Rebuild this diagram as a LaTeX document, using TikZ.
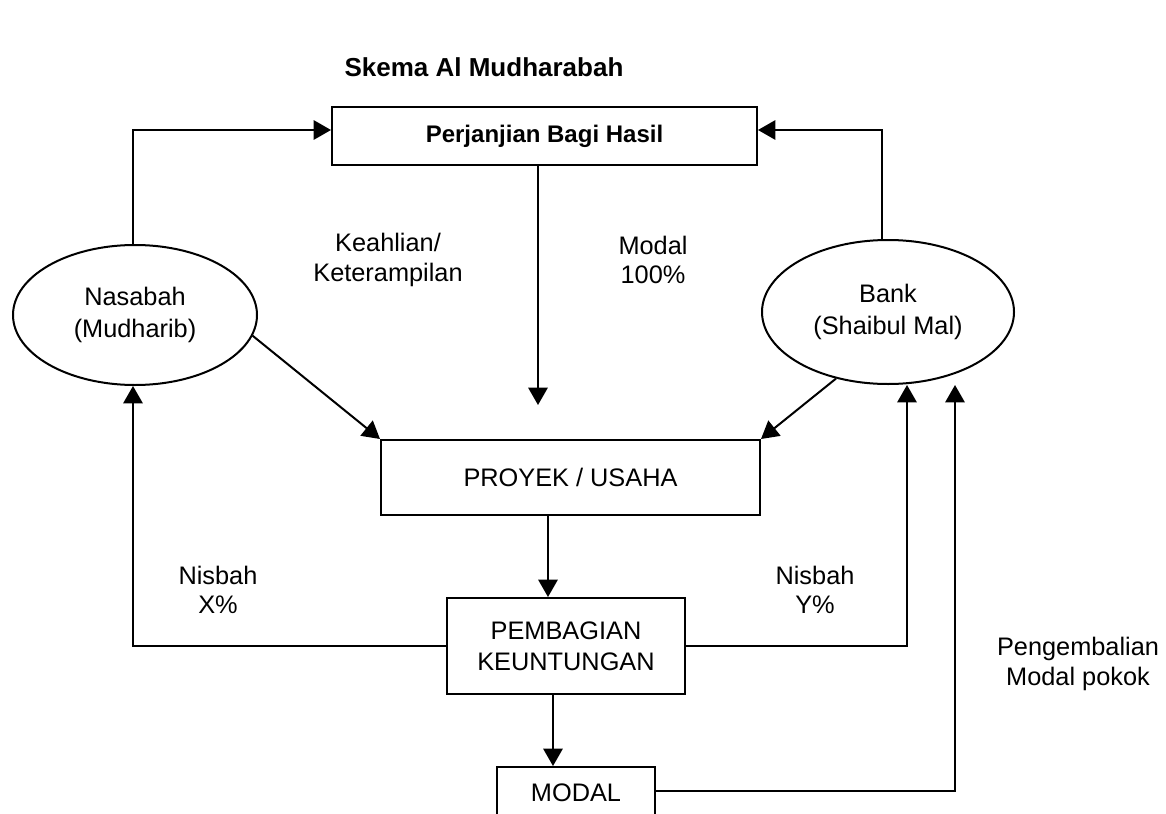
\documentclass[tikz,border=0pt]{standalone}
\usepackage{fontspec}
\setmainfont{Liberation Sans}
\usetikzlibrary{shapes.geometric,arrows.meta}
\begin{document}
\begin{tikzpicture}[x=0.75pt,y=-0.75pt,
  line width=1.5pt,
  txt/.style={font=\fontsize{19}{22}\selectfont, align=center, inner sep=0pt},
  box/.style={draw, rectangle, inner sep=0pt, font=\fontsize{19}{23.5}\selectfont, align=center},
  ell/.style={draw, ellipse, inner sep=0pt, font=\fontsize{19}{23.5}\selectfont, align=center},
  arr/.style={-{Triangle[length=13pt,width=14.5pt]}}]
\useasboundingbox (0,0) rectangle (1166,813);
\clip (0,0) rectangle (1166,813);

\node[font=\bfseries\fontsize{19.5}{23}\selectfont, inner sep=0pt] (title) at (484,67) {Skema Al Mudharabah};

\node[box, minimum width=318.75pt, minimum height=44pt, font=\bfseries\fontsize{18}{22}\selectfont] (top) at (544.5,136) {Perjanjian Bagi Hasil};
\node[ell, minimum width=183pt, minimum height=105pt] (nas) at (135,315) {Nasabah\\(Mudharib)};
\node[ell, minimum width=189pt, minimum height=108pt] (bank) at (888,312) {Bank\\(Shaibul Mal)};
\node[box, minimum width=284.25pt, minimum height=56.25pt] (proy) at (570.5,477.5) {PROYEK / USAHA};
\node[box, minimum width=178.5pt, minimum height=72pt] (pem) at (566,646) {PEMBAGIAN\\KEUNTUNGAN};
\node[box, minimum width=118.5pt, minimum height=39pt] (modal) at (576,793) {MODAL};

\node[txt] (keah) at (388,260) {Keahlian/\\Keterampilan};
\node[txt] (mod100) at (653,260) {Modal\\100\%};
\node[txt] (nx) at (218,590) {Nisbah\\X\%};
\node[txt] (ny) at (815,590) {Nisbah\\Y\%};
\node[txt] (peng) at (1078,664) {Pengembalian\\Modal pokok};

\coordinate (mtip) at (538,405);
\coordinate (c1) at (548,0);
\coordinate (c2) at (553,0);
\coordinate (cy) at (907,646);
\coordinate (cp) at (955,791);

\draw[arr] ([xshift=-1.5pt]nas.north) |- ([yshift=4.5pt]top.west);
\draw[arr] ([xshift=-4.5pt]bank.north) |- ([yshift=4.5pt]top.east);
\draw[arr] (top.south -| mtip) -- (mtip);
\draw[arr] (nas.-10) -- (proy.north west);
\draw[arr] (bank.-128) -- (proy.north east);
\draw[arr] (proy.south -| c1) -- (pem.north -| c1);
\draw[arr] (pem.west) -| ([xshift=-1.5pt]nas.south);
\draw[arr] (pem.east) -| (cy |- bank.south);
\draw[arr] (pem.south -| c2) -- (modal.north -| c2);
\draw[arr] ([yshift=1.5pt]modal.east) -| (cp |- bank.south);
\end{tikzpicture}
\end{document}
